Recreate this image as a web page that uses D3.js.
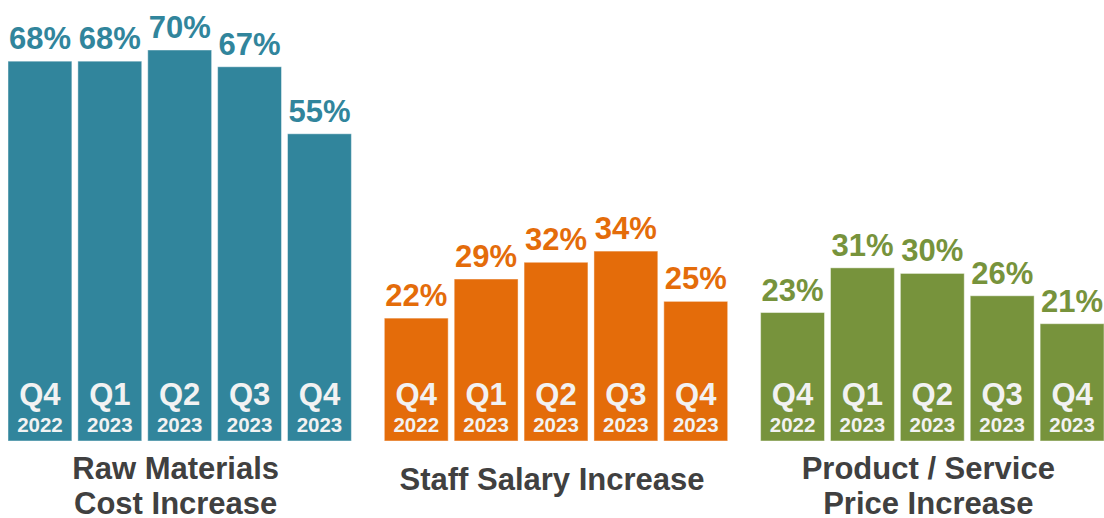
<!DOCTYPE html>
<html>
<head>
<meta charset="utf-8">
<script src="https://cdn.jsdelivr.net/npm/d3@7"></script>
<style>
  body { margin: 0; background: #fff; }
  text { font-family: "Liberation Sans", Arial, sans-serif; font-weight: bold; }
</style>
</head>
<body>
<div id="chart"></div>
<script>
const width = 1104;
const height = 518;

// data
const groups = ["Raw Materials|Cost Increase", "Staff Salary Increase", "Product / Service|Price Increase"];
const quarters = ["Q4", "Q1", "Q2", "Q3", "Q4"];
const years = ["2022", "2023", "2023", "2023", "2023"];
const rawMaterials = [68, 68, 70, 67, 55];
const staffSalary = [22, 29, 32, 34, 25];
const productPrice = [23, 31, 30, 26, 21];
const colors = ["#31859C", "#E46C0A", "#77933C"];

const series = [rawMaterials, staffSalary, productPrice];

const svg = d3.select('#chart')
  .append('svg')
  .attr('width', width)
  .attr('height', height);

const x0 = d3.scaleBand()
  .domain(d3.range(groups.length))
  .range([8, 1104])
  .paddingInner(0.0875)
  .paddingOuter(0);

const x1 = d3.scaleBand()
  .domain(d3.range(quarters.length))
  .range([0, x0.bandwidth()])
  .paddingInner(0.086)
  .paddingOuter(0);

const y = d3.scaleLinear()
  .domain([0, 70])
  .range([441, 50]);

const g = svg.selectAll('g.group')
  .data(series)
  .enter()
  .append('g')
  .attr('class', 'group')
  .attr('transform', (d, i) => `translate(${x0(i)},0)`);

g.each(function (vals, gi) {
  const grp = d3.select(this);
  const col = colors[gi];

  grp.selectAll('rect')
    .data(vals)
    .enter()
    .append('rect')
    .attr('x', (d, i) => x1(i))
    .attr('y', (d) => y(d))
    .attr('width', x1.bandwidth())
    .attr('height', (d) => y(0) - y(d))
    .attr('fill', col)
    .attr('stroke', '#ffffff')
    .attr('stroke-opacity', 0.45)
    .attr('stroke-width', 1);

  grp.selectAll('text.val')
    .data(vals)
    .enter()
    .append('text')
    .attr('class', 'val')
    .attr('x', (d, i) => x1(i) + x1.bandwidth() / 2)
    .attr('y', (d) => y(d) - 12)
    .attr('text-anchor', 'middle')
    .style('font-size', '31px')
    .style('fill', col)
    .text((d) => d + '%');

  grp.selectAll('text.q')
    .data(quarters)
    .enter()
    .append('text')
    .attr('class', 'q')
    .attr('x', (d, i) => x1(i) + x1.bandwidth() / 2)
    .attr('y', 405)
    .attr('text-anchor', 'middle')
    .style('font-size', '31px')
    .style('fill', '#f2f2f2')
    .text((d) => d);

  grp.selectAll('text.yr')
    .data(years)
    .enter()
    .append('text')
    .attr('class', 'yr')
    .attr('x', (d, i) => x1(i) + x1.bandwidth() / 2)
    .attr('y', 432)
    .attr('text-anchor', 'middle')
    .style('font-size', '20.5px')
    .style('fill', '#f2f2f2')
    .text((d) => d);

  const lines = groups[gi].split('|');
  const t = grp.append('text')
    .attr('text-anchor', 'middle')
    .style('font-size', '31px')
    .style('fill', '#404040');
  lines.forEach((line, li) => {
    t.append('tspan')
      .attr('x', x0.bandwidth() / 2 - 4)
      .attr('y', lines.length === 1 ? 490 : 479 + li * 35)
      .text(line);
  });
});
</script>
</body>
</html>
